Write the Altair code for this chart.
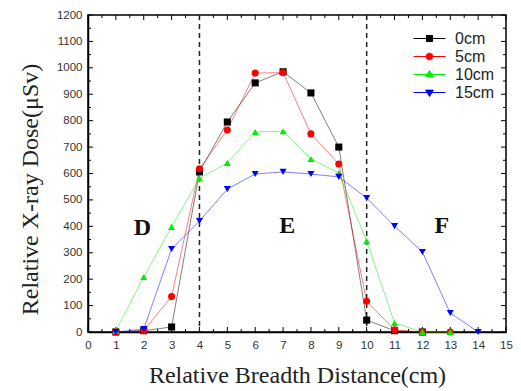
import altair as alt
import pandas as pd

series_names = ["0cm", "5cm", "10cm", "15cm"]
marker_colors = ["#000000", "#ff0000", "#00ee00", "#0000ff"]

x_0cm = [1, 2, 3, 4, 5, 6, 7, 8, 9, 10, 11, 12]
y_0cm = [0, 5, 19, 606, 795, 943, 985, 905, 700, 45, 5, 0]
x_5cm = [1, 2, 3, 4, 5, 6, 7, 8, 9, 10, 11, 12, 13]
y_5cm = [0, 5, 134, 618, 765, 980, 982, 750, 636, 116, 8, 0, 0]
x_10cm = [1, 2, 3, 4, 5, 6, 7, 8, 9, 10, 11, 12, 13]
y_10cm = [5, 208, 398, 582, 640, 757, 760, 655, 602, 344, 34, 0, 0]
x_15cm = [1, 2, 3, 4, 5, 6, 7, 8, 9, 10, 11, 12, 13, 14]
y_15cm = [0, 11, 314, 420, 541, 598, 606, 598, 587, 507, 401, 303, 72, 0]

region_labels = ["D", "E", "F"]
region_x = [1.95, 7.15, 12.7]
region_y = [395, 400, 400]

boundary_x = [4, 10]

x_major = list(range(0, 16))
x_minor = [v + 0.5 for v in range(0, 15)]
y_major = list(range(0, 1201, 100))
y_minor = list(range(50, 1200, 100))

W, H = 418, 317

rows = []
for name, xs, ys in [("0cm", x_0cm, y_0cm), ("5cm", x_5cm, y_5cm),
                     ("10cm", x_10cm, y_10cm), ("15cm", x_15cm, y_15cm)]:
    for i, (xv, yv) in enumerate(zip(xs, ys)):
        rows.append({"x": xv, "y": yv, "series": name, "lg": name, "order": i})
df = pd.DataFrame(rows)

xscale = alt.Scale(domain=[0, 15], nice=False)
yscale = alt.Scale(domain=[0, 1200], nice=False)

serif = "Liberation Serif"
sans = "Liberation Sans"

xaxis = alt.Axis(values=x_major, format="d", labelOverlap=False, ticks=False, grid=False,
                 labelFont=sans, labelFontSize=11.5,
                 labelColor="#333", labelPadding=7, title="Relative Breadth Distance(cm)",
                 titleFont=serif, titleFontSize=24, titleFontWeight="normal", titleColor="#222",
                 titlePadding=13, domainColor="#000", domainWidth=1.5, labelFlush=False)
yaxis = alt.Axis(values=y_major, format="d", labelOverlap=False, ticks=False, grid=False,
                 labelFont=sans, labelFontSize=11.5,
                 labelColor="#333", labelPadding=6, title="Relative X-ray Dose(\u03bcSv)",
                 titleFont=serif, titleFontSize=24, titleFontWeight="normal", titleColor="#222",
                 titlePadding=14, titleY=174, domainColor="#000", domainWidth=1.5,
                 labelFlush=False)


def X(field="x:Q"):
    return alt.X(field, scale=xscale, axis=xaxis)


def Y(field="y:Q"):
    return alt.Y(field, scale=yscale, axis=yaxis)


cscale = alt.Scale(domain=series_names, range=marker_colors)
shape_scale = alt.Scale(domain=series_names,
                        range=["square", "circle", "triangle-up", "triangle-down"])

lines = alt.Chart(df).mark_line(strokeWidth=1, opacity=0.5).encode(
    x=X(), y=Y(),
    color=alt.Color("series:N", scale=cscale, legend=None),
    detail="series:N",
    order="order:Q",
)

points = alt.Chart(df).mark_point(filled=True, opacity=1, size=50).encode(
    x=X(), y=Y(),
    color=alt.Color("series:N", scale=cscale, legend=None),
    shape=alt.Shape("series:N", scale=shape_scale, legend=None),
)

line_part = "M-2,0H2"
legend_paths = [
    line_part + "M-0.38,-0.38H0.38V0.38H-0.38Z",
    line_part + "M-0.42,0A0.42,0.42 0 1,0 0.42,0A0.42,0.42 0 1,0 -0.42,0Z",
    line_part + "M0,-0.5L0.48,0.3H-0.48Z",
    line_part + "M0,0.5L0.48,-0.3H-0.48Z",
]
lg_legend = alt.Legend(title=None, orient="none", legendX=333, legendY=15, padding=0,
                       symbolSize=256, symbolStrokeWidth=1, symbolOpacity=1,
                       labelFont=sans, labelFontSize=16, labelColor="#222",
                       labelOffset=17, rowPadding=1)
lg_scale_fill = alt.Scale(domain=series_names, range=marker_colors)
lg_scale_shape = alt.Scale(domain=series_names, range=legend_paths)
legend_layer = alt.Chart(df).mark_point(opacity=0, filled=True).encode(
    x=X(), y=Y(),
    fill=alt.Fill("lg:N", scale=lg_scale_fill, legend=lg_legend),
    stroke=alt.Stroke("lg:N", scale=lg_scale_fill, legend=lg_legend),
    shape=alt.Shape("lg:N", scale=lg_scale_shape, legend=lg_legend),
)

bdf = pd.DataFrame({"x": boundary_x})
boundaries = alt.Chart(bdf).mark_rule(color="#222", strokeWidth=1.5, strokeDash=[5, 4]).encode(
    x=X(), y=alt.value(0), y2=alt.value(H))

tdf = pd.DataFrame({"x": region_x, "y": region_y, "t": region_labels})
texts = alt.Chart(tdf).mark_text(font=serif, fontSize=24, fontWeight="bold", color="#111").encode(
    x=X(), y=Y(), text="t:N")


def xticks(vals, L):
    d = pd.DataFrame({"x": vals})
    b = alt.Chart(d).mark_rule(color="#000", strokeWidth=1).encode(
        x=X(), y=alt.value(H), y2=alt.value(H - L))
    t = alt.Chart(d).mark_rule(color="#000", strokeWidth=1).encode(
        x=X(), y=alt.value(0), y2=alt.value(L))
    return [b, t]


def yticks(vals, L):
    d = pd.DataFrame({"y": vals})
    l = alt.Chart(d).mark_rule(color="#000", strokeWidth=1).encode(
        y=Y(), x=alt.value(0), x2=alt.value(L))
    r = alt.Chart(d).mark_rule(color="#000", strokeWidth=1).encode(
        y=Y(), x=alt.value(W), x2=alt.value(W - L))
    return [l, r]


tick_layers = xticks(x_major, 5) + xticks(x_minor, 3) + yticks(y_major, 5) + yticks(y_minor, 3)

chart = alt.layer(
    *tick_layers, boundaries, lines, points, legend_layer, texts
).resolve_scale(
    color="independent", shape="independent", fill="independent", stroke="independent"
).properties(
    width=W, height=H,
    autosize=alt.AutoSizeParams(type="none"),
    padding={"left": 80, "top": 7, "right": 7, "bottom": 57},
    background="white",
).configure_view(stroke="#000", strokeWidth=1.5)

chart.save("out.html", embed_options={"renderer": "svg", "actions": False})
